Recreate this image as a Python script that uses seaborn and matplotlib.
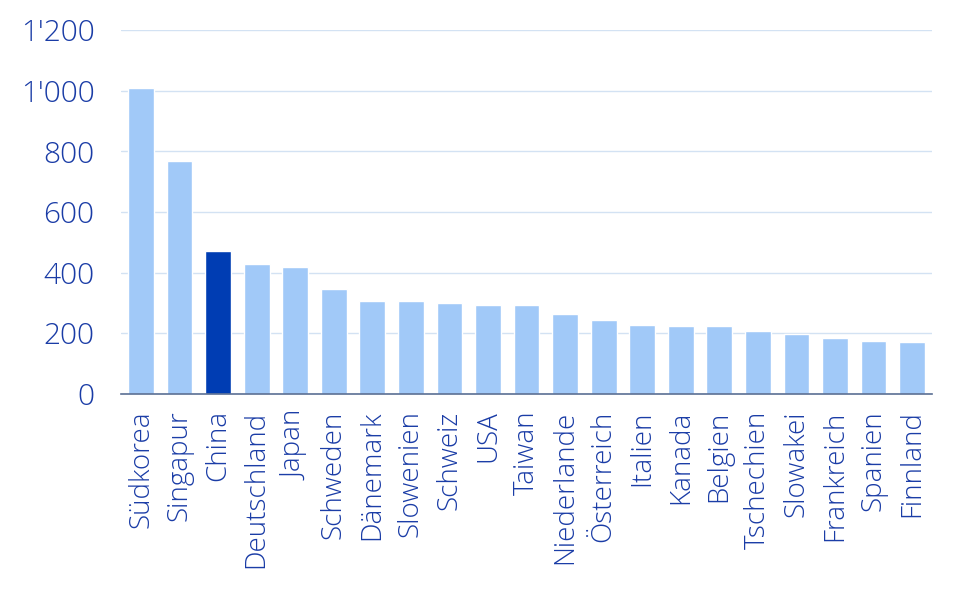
import matplotlib
matplotlib.use("Agg")
import matplotlib.pyplot as plt
import matplotlib.ticker as mticker
import seaborn as sns
import pandas as pd

# Werte
laender = ["Südkorea", "Singapur", "China", "Deutschland", "Japan", "Schweden",
           "Dänemark", "Slowenien", "Schweiz", "USA", "Taiwan", "Niederlande",
           "Österreich", "Italien", "Kanada", "Belgien", "Tschechien", "Slowakei",
           "Frankreich", "Spanien", "Finnland"]
werte = [1010, 768, 470, 428, 417, 346, 305, 305, 301, 294, 292, 262,
         244, 227, 224, 224, 206, 198, 184, 173, 171]
hervorgehoben = ["China"]

df = pd.DataFrame({"land": laender, "wert": werte})
df["gruppe"] = ["hi" if l in hervorgehoben else "lo" for l in laender]

sns.set_theme(style="white")
plt.rcParams["font.family"] = ["Open Sans", "DejaVu Sans"]
plt.rcParams["font.weight"] = "light"

text_col = "#1A3CA6"
fig, ax = plt.subplots(figsize=(9.6, 5.93), dpi=100)
fig.subplots_adjust(left=0.126, right=0.971, top=0.949, bottom=0.336)

sns.barplot(data=df, x="land", y="wert", hue="gruppe", dodge=False,
            palette={"lo": "#A1C9F8", "hi": "#003DB3"}, width=0.67,
            legend=False, ax=ax, saturation=1)

ax.set_ylim(0, 1200)
ax.set_xlim(-0.52, len(laender) - 0.48)
ax.yaxis.set_major_locator(mticker.MultipleLocator(200))
ax.yaxis.set_major_formatter(mticker.FuncFormatter(lambda v, p: f"{int(v):,}".replace(",", "'")))
ax.grid(axis="y", color="#D3E2F3", linewidth=1)
ax.set_axisbelow(True)
for s in ["top", "right", "left"]:
    ax.spines[s].set_visible(False)
ax.spines["bottom"].set_color("#5B6F94")
ax.spines["bottom"].set_linewidth(1.2)

ax.set_xlabel("")
ax.set_ylabel("")
ax.tick_params(axis="y", length=0, pad=19, labelsize=21.5, labelcolor=text_col)
ax.tick_params(axis="x", length=0, pad=12, labelsize=20, labelcolor=text_col, rotation=90)

plt.savefig("out.png", dpi=100)
